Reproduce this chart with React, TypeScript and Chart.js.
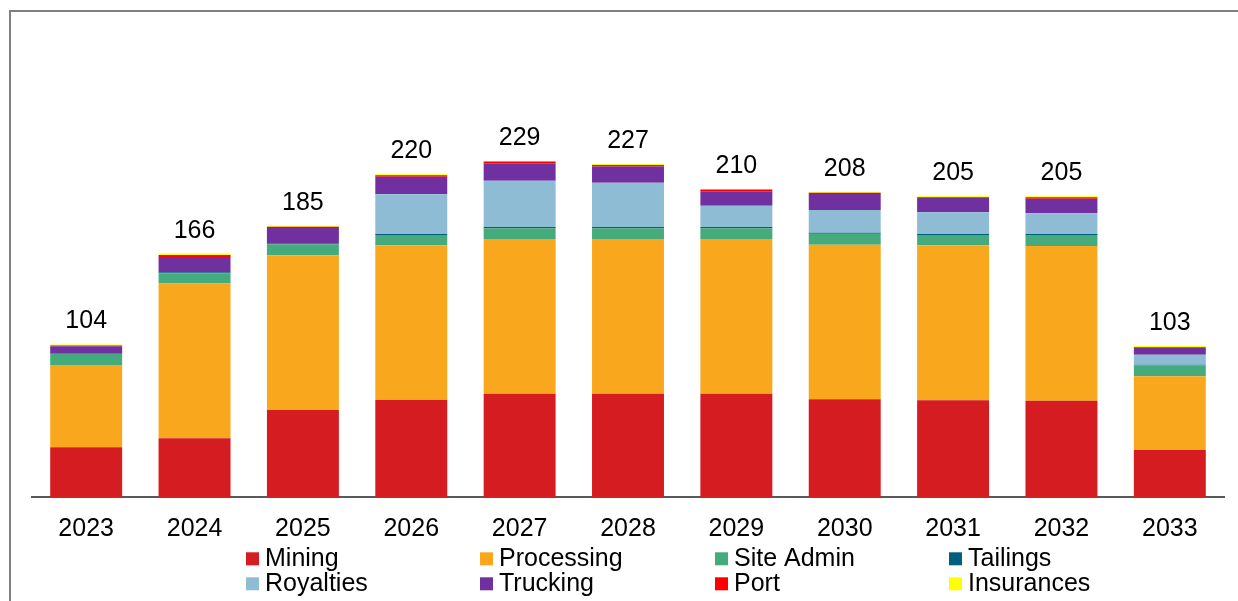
import React, { useEffect, useRef } from "react";
import { Chart, registerables } from "chart.js";

Chart.register(...registerables);

const years = ["2023", "2024", "2025", "2026", "2027", "2028", "2029", "2030", "2031", "2032", "2033"];
const mining = [34, 40, 59.3, 66.1, 70.4, 70.4, 70.4, 66.6, 65.9, 65.6, 32];
const processing = [56, 105.5, 105.5, 105.5, 105.5, 105.5, 105.5, 105.4, 105.7, 105.5, 50.4];
const siteAdmin = [7.5, 7, 7.5, 7, 7.3, 7.3, 7.3, 7.5, 7, 7.5, 7.5];
const tailings = [0.3, 0.7, 0.7, 0.7, 0.9, 0.9, 0.9, 0.7, 0.7, 0.7, 0.3];
const royalties = [0, 0, 0, 27.1, 31.6, 30.2, 14.5, 15.5, 14.8, 14.1, 6.8];
const trucking = [5, 10.5, 10.4, 12, 11.8, 11.1, 9.9, 10.9, 9.8, 10, 4.6];
const port = [0.5, 1.3, 0.8, 1, 1.2, 1, 1.2, 0.9, 0.5, 1, 0.5];
const insurances = [0.7, 1, 0.8, 0.6, 0.3, 0.6, 0.3, 0.5, 0.6, 0.6, 0.9];
const totals = [104, 166, 185, 220, 229, 227, 210, 208, 205, 205, 103];

const seriesNames = ["Mining", "Processing", "Site Admin", "Tailings", "Royalties", "Trucking", "Port", "Insurances"];
const seriesColors = ["#D51C20", "#F9A81E", "#45AB7D", "#005F7F", "#8EBCD4", "#7030A0", "#FF0000", "#FFFF00"];
const seriesValues = [mining, processing, siteAdmin, tailings, royalties, trucking, port, insurances];

const FONT = "'Liberation Sans', Arial, sans-serif";

const totalsPlugin = {
  id: "totalsLabels",
  afterDatasetsDraw(chart: any) {
    const { ctx, scales } = chart;
    const x = scales.x;
    const y = scales.y;
    ctx.save();
    ctx.font = `25px ${FONT}`;
    ctx.fillStyle = "#000";
    ctx.textAlign = "center";
    ctx.textBaseline = "alphabetic";
    totals.forEach((t, i) => {
      const sum = chart.data.datasets.reduce((s: number, d: any) => s + (d.data[i] as number), 0);
      ctx.fillText(String(t), x.getPixelForValue(i), y.getPixelForValue(sum) - 16);
    });
    ctx.restore();
  },
};

const gridLegendPlugin = {
  id: "gridLegend",
  afterDraw(chart: any) {
    const ctx = chart.ctx;
    const x0 = 246;
    const colW = 234.3;
    const rowBase = [566, 591];
    const box = 13;
    ctx.save();
    ctx.font = `25px ${FONT}`;
    ctx.textAlign = "left";
    ctx.textBaseline = "alphabetic";
    chart.data.datasets.forEach((d: any, i: number) => {
      const c = i % 4;
      const r = Math.floor(i / 4);
      const bx = Math.round(x0 + c * colW);
      ctx.fillStyle = d.backgroundColor;
      ctx.fillRect(bx, rowBase[r] - 13.7, box, box);
      ctx.fillStyle = "#000";
      ctx.fillText(d.label, bx + 19, rowBase[r]);
    });
    ctx.restore();
  },
};

export default function App() {
  const canvasRef = useRef<HTMLCanvasElement | null>(null);

  useEffect(() => {
    if (!canvasRef.current) return;
    const chart = new Chart(canvasRef.current, {
      type: "bar",
      data: {
        labels: years,
        datasets: seriesNames.map((name, i) => ({
          label: name,
          data: seriesValues[i],
          backgroundColor: seriesColors[i],
          borderWidth: 0,
          barPercentage: 0.664,
          categoryPercentage: 1.0,
        })),
      },
      options: {
        animation: false,
        responsive: false,
        layout: { padding: { top: 57, left: 32, right: 14, bottom: 0 } },
        plugins: {
          legend: { display: false },
          tooltip: { enabled: false },
        },
        scales: {
          x: {
            stacked: true,
            grid: { display: false, drawTicks: false },
            border: { display: true, color: "#595959", width: 2 },
            ticks: {
              font: { size: 25, family: FONT },
              color: "#000",
              padding: 17,
              maxRotation: 0,
              autoSkip: false,
            },
            afterFit: (s: any) => {
              s.height = 104;
            },
          },
          y: {
            stacked: true,
            display: false,
            min: 0,
            max: 300,
          },
        },
      },
      plugins: [totalsPlugin, gridLegendPlugin],
    } as any);
    return () => chart.destroy();
  }, []);

  return (
    <div style={{ position: "fixed", left: 0, top: 0, width: 1238, height: 601, overflow: "hidden", background: "#fff" }}>
      <div
        style={{
          position: "absolute",
          left: 9,
          top: 10,
          width: 1400,
          height: 800,
          borderLeft: "2px solid #7f7f7f",
          borderTop: "2px solid #7f7f7f",
          boxSizing: "border-box",
        }}
      />
      <canvas
        ref={canvasRef}
        width={1238}
        height={601}
        style={{ position: "absolute", left: 0, top: 0, width: 1238, height: 601 }}
      />
    </div>
  );
}
